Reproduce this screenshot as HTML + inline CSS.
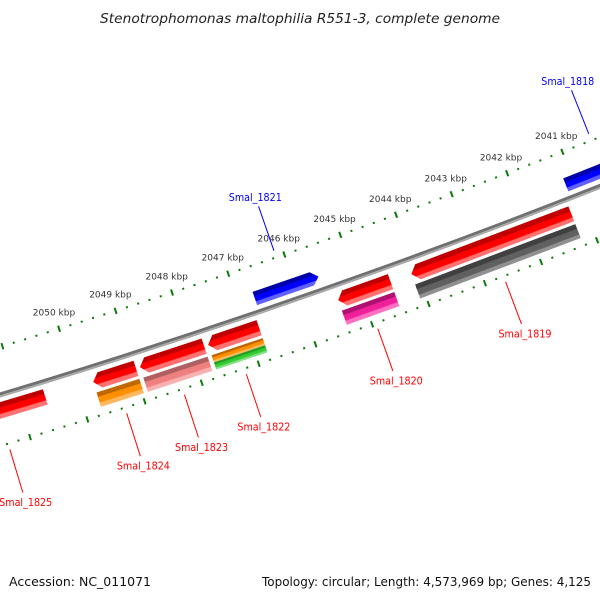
<!DOCTYPE html>
<html><head><meta charset="utf-8"><style>
body{margin:0;background:#fff;}
svg{display:block;}
text{font-family:"DejaVu Sans","Liberation Sans",sans-serif;}
</style></head><body>
<svg id="map" width="600" height="600" viewBox="0 0 600 600" xmlns="http://www.w3.org/2000/svg">
<defs id="defs"></defs>
<rect width="600" height="600" fill="#fff"/>
<text x="300" y="23" text-anchor="middle" font-size="13.5" font-style="italic" fill="#222" textLength="400" lengthAdjust="spacingAndGlyphs">Stenotrophomonas maltophilia R551-3, complete genome</text>
<text x="9" y="586" font-size="12.5" fill="#111" textLength="142" lengthAdjust="spacingAndGlyphs">Accession: NC_011071</text>
<text x="591" y="586" text-anchor="end" font-size="12.5" fill="#111" textLength="329" lengthAdjust="spacingAndGlyphs">Topology: circular; Length: 4,573,969 bp; Genes: 4,125</text>
<g id="plot"></g>
</svg>
<script>
// data (kbp)
const geneNames = ['Smal_1818','Smal_1821','Smal_1825','Smal_1824','Smal_1823','Smal_1822','Smal_1820','Smal_1819'];
const geneStrand = [1,1,-1,-1,-1,-1,-1,-1];
const geneStart = [2039.8,2045.58,2050.56,2048.97,2047.77,2046.8,2044.47,2041.24];
const geneEnd   = [2041.15,2046.71,2052.2,2049.72,2048.9,2047.7,2045.4,2044.1];
const cogColor  = [null,null,null,'orange','pink','orange-green','magenta','gray'];
const tickStartKb = 2038;
const tickEndKb = 2054;
const tickStepKb = 0.2;
const tickLabelKb = [2041,2042,2043,2044,2045,2046,2047,2048,2049,2050];

const CX=-2180, CY=-6846;
function ang(kb){return 68.6+(kb-2041)*0.452;}
function pt(r,deg){const a=deg*Math.PI/180;return [CX+r*Math.cos(a),CY+r*Math.sin(a)];}
const NS='http://www.w3.org/2000/svg';
const plot=document.getElementById('plot');
const defs=document.getElementById('defs');
function mk(tag,attrs,parent){const e=document.createElementNS(NS,tag);for(const k in attrs)e.setAttribute(k,attrs[k]);(parent||plot).appendChild(e);return e;}
function arcPath(r,a1,a2){const p1=pt(r,a1),p2=pt(r,a2);return `M${p1[0]},${p1[1]} A${r},${r} 0 0,${a2>a1?1:0} ${p2[0]},${p2[1]}`;}

const bb1=mk('path',{d:arcPath(7561,60,80),fill:'none',stroke:'#707070','stroke-width':3});


const bb2=mk('path',{d:arcPath(7563.5,60,80),fill:'none',stroke:'#a8a8a8','stroke-width':2});



const RUP=7516, RLOW=7611;
const nT=Math.round((tickEndKb-tickStartKb)/tickStepKb);
for(let i=0;i<=nT;i++){
  const kb=tickStartKb+i*tickStepKb;
  const major=Math.abs(kb-Math.round(kb))<1e-6;
  const a=ang(kb);
  [RUP,RLOW].forEach((r)=>{
    const h=major?3.2:1;
    const p1=pt(r-h,a),p2=pt(r+h,a);
    const l=mk('line',{x1:p1[0],y1:p1[1],x2:p2[0],y2:p2[1],stroke:'#0a7a0a','stroke-width':2});
    
    
  });
}
tickLabelKb.forEach(kb=>{
  const p=pt(7499,ang(kb));
  const t=mk('text',{x:p[0],y:p[1]+3,'text-anchor':'middle','font-size':9,fill:'#333'});
  t.textContent=kb+' kbp';
  
  
});

const COL={red:['#c00000','#ff0000','#ff7070'],blue:['#0000a8','#0000ff','#6060ff'],
 orange:['#c06800','#ff9000','#ffb860'],pink:['#b06060','#f08080','#f8b0b0'],
 magenta:['#b01070','#f0209a','#ff70c0'],gray:['#404040','#606060','#909090'],green:['#20a020','#33cc33','#80e080']};
let gid=0;
function grad(c,r1,r2,a){
  const id='g'+(gid++);const p1=pt(r1,a),p2=pt(r2,a);
  const g=mk('linearGradient',{id:id,gradientUnits:'userSpaceOnUse',x1:p1[0],y1:p1[1],x2:p2[0],y2:p2[1]},defs);
  const cs=COL[c];
  [[0,cs[0]],[0.28,cs[0]],[0.34,cs[1]],[0.68,cs[1]],[0.74,cs[2]],[1,cs[2]]].forEach(s=>mk('stop',{offset:s[0],'stop-color':s[1]},g));
  return 'url(#'+id+')';
}
function block(a1,a2,r1,r2,head,c,name){
  const hd=head?0.053*Math.sign(a2-a1):0;
  const ah=a2-hd;
  const P=[pt(r1,a1),pt(r2,a1),pt(r2,ah)];
  if(head)P.push(pt((r1+r2)/2,a2));
  P.push(pt(r1,ah));
  const d='M'+P.map(p=>p[0].toFixed(2)+','+p[1].toFixed(2)).join(' L')+' Z';
  const e=mk('path',{d:d,fill:grad(c,r1,r2,(a1+a2)/2)});
  
  
}

geneNames.forEach((n,i)=>{
  const s=geneStart[i],e=geneEnd[i];
  const mid=ang((s+e)/2);
  if(geneStrand[i]>0){
    block(ang(e),ang(s),7541,7555,true,'blue','gene-'+n.toLowerCase());
    const p1=pt(7509,mid),p2=pt(7462,mid);
    const l=mk('line',{x1:p1[0],y1:p1[1],x2:p2[0],y2:p2[1],stroke:'#0000ff','stroke-width':1});
    
    
    const tp=pt(7452,mid);
    const t=mk('text',{x:tp[0],y:tp[1]+4,'text-anchor':'middle','font-size':10.5,fill:'#0000ff',textLength:53,lengthAdjust:'spacingAndGlyphs'});
    t.textContent=n;
    
    
  } else {
    block(ang(s),ang(e),7569,7585,true,'red','gene-'+n.toLowerCase());
    const c=cogColor[i];
    if(c==='orange-green'){
      block(ang(s),ang(e),7588,7595.5,false,'orange','cog-'+n.toLowerCase()+'-a');
      block(ang(s),ang(e),7595.5,7603,false,'green','cog-'+n.toLowerCase()+'-b');
    } else if(c){
      block(ang(s),ang(e),7588,7603,false,c,'cog-'+n.toLowerCase());
    }
    const p1=pt(7617,mid),p2=pt(7662,mid);
    const l=mk('line',{x1:p1[0],y1:p1[1],x2:p2[0],y2:p2[1],stroke:'#ff0000','stroke-width':1});
    
    
    const tp=pt(7672,mid);
    const t=mk('text',{x:tp[0],y:tp[1]+4,'text-anchor':'middle','font-size':10.5,fill:'#ff0000',textLength:53,lengthAdjust:'spacingAndGlyphs'});
    t.textContent=n;
    
    
  }
});
</script>
</body></html>
